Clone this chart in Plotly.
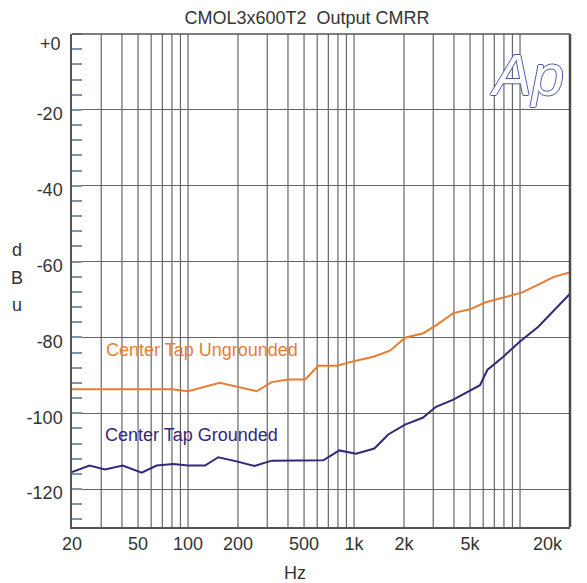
import plotly.graph_objects as go

# ---- data ----
ungrounded_hz = [20, 25, 80, 100, 155, 259, 319, 402, 507, 609, 793, 968, 1306, 1647,
                 2028, 2615, 3148, 3964, 4996, 6152, 8314, 10234, 12880, 15860, 20000]
ungrounded_db = [-93.7, -93.7, -93.7, -94.2, -92.0, -94.2, -91.8, -91.1, -91.1, -87.5, -87.5,
                 -86.4, -85.1, -83.5, -80.1, -78.9, -76.7, -73.6, -72.6, -70.8, -69.2, -68.2,
                 -66.1, -64.1, -62.8]

grounded_hz = [20, 25.5, 31.6, 40.4, 52.6, 64.7, 81.5, 100, 126.6, 152, 196, 251, 319, 653,
               816, 1028, 1325, 1608, 2028, 2592, 3119, 3964, 5740, 6352, 7926, 10000,
               12880, 15860, 20000]
grounded_db = [-115.5, -113.8, -114.8, -113.8, -115.7, -113.8, -113.4, -113.8, -113.8, -111.6,
               -112.7, -113.9, -112.5, -112.4, -109.8, -110.7, -109.3, -105.6, -103.0, -101.2,
               -98.3, -96.4, -92.6, -88.6, -85.1, -81.1, -77.2, -73.2, -68.5]

x_grid = [30, 40, 50, 60, 70, 80, 90, 100, 200, 300, 400, 500, 600, 700, 800, 900,
          1000, 2000, 3000, 4000, 5000, 6000, 7000, 8000, 9000, 10000]
x_tick_vals = [20, 50, 100, 200, 500, 1000, 2000, 5000]
x_tick_text = ["20", "50", "100", "200", "500", "1k", "2k", "5k"]
y_tick_vals = [-20, -40, -60, -80, -100, -120]
y_tick_text = ["-20", "-40", "-60", "-80", "-100", "-120"]

ORANGE = "#E87D32"
PURPLE = "#33287A"
GRID = "#666666"
TXT = "#333333"
FONT = "Liberation Sans, Arial, sans-serif"
FS = 18

fig = go.Figure()
fig.add_trace(go.Scatter(x=ungrounded_hz, y=ungrounded_db, mode="lines",
                         line=dict(color=ORANGE, width=2), name="Center Tap Ungrounded"))
fig.add_trace(go.Scatter(x=grounded_hz, y=grounded_db, mode="lines",
                         line=dict(color=PURPLE, width=2), name="Center Tap Grounded"))

# vertical grid lines
for v in x_grid:
    fig.add_shape(type="line", xref="x", yref="paper", x0=v, x1=v, y0=0, y1=1,
                  line=dict(color=GRID, width=1.2), layer="below")

fig.update_layout(
    width=587, height=583,
    margin=dict(l=72, r=17, t=34, b=56),
    paper_bgcolor="white", plot_bgcolor="white",
    showlegend=False,
    font=dict(family=FONT, size=FS, color=TXT),
    title=dict(text="CMOL3x600T2  Output CMRR", x=307 / 587, xanchor="center",
               y=1 - 18 / 583, yanchor="middle", font=dict(size=FS, color=TXT)),
)
fig.update_xaxes(type="log", range=[1.30103, 4.30103], showgrid=False,
                 tickvals=x_tick_vals, ticktext=x_tick_text, ticks="",
                 showline=True, linecolor="#555555", linewidth=1.5,
                 tickfont=dict(size=FS, color=TXT), zeroline=False)
fig.update_yaxes(range=[-130, 0], showgrid=True, gridcolor=GRID, gridwidth=1.2,
                 tickvals=y_tick_vals, ticktext=y_tick_text, ticks="",
                 showline=True, linecolor="#555555", linewidth=1.5, zeroline=False,
                 ticklabelstandoff=4, ticklabelshift=4,
                 tickfont=dict(size=FS, color=TXT),
                 minor=dict(dtick=4, tick0=0, ticks="inside", ticklen=10,
                            tickcolor="#7f96a8", tickwidth=1.5, showgrid=False))

# frame: top and right borders
fig.add_shape(type="line", xref="paper", yref="paper", x0=0, x1=1, y0=1, y1=1,
              line=dict(color="#555555", width=1.5))
fig.add_shape(type="line", xref="paper", yref="paper", x0=1, x1=1, y0=0, y1=1,
              line=dict(color="#4a4a4a", width=2.5))

# "+0" label (drawn below the top edge like the reference)
fig.add_annotation(text="+0", xref="paper", yref="paper", x=-0.018, y=1 - 10 / 493,
                   xanchor="right", yanchor="middle", showarrow=False,
                   font=dict(size=FS, color=TXT))
# "20k" label, pulled in from the right edge
fig.add_annotation(text="20k", xref="paper", yref="paper", x=(548 - 72) / 498, y=0,
                   xanchor="center", yanchor="top", yshift=-5, showarrow=False,
                   font=dict(size=FS, color=TXT))
# y axis title, stacked letters
for i, ch in enumerate(["d", "B", "u"]):
    fig.add_annotation(text=ch, xref="paper", yref="paper", x=(17 - 72) / 498,
                       y=1 - (250 + 27.5 * i - 34) / 493,
                       xanchor="center", yanchor="middle", showarrow=False,
                       font=dict(size=FS, color=TXT))
# x axis title
fig.add_annotation(text="Hz", xref="paper", yref="paper", x=(295 - 72) / 498,
                   y=-(573 - 527) / 493, xanchor="center", yanchor="middle",
                   showarrow=False, font=dict(size=FS, color=TXT))
# legend texts
fig.add_annotation(text="Center Tap Ungrounded", x=1.494, y=-83.3, xref="x", yref="y",
                   xanchor="left", yanchor="middle", showarrow=False,
                   font=dict(size=FS, color=ORANGE))
fig.add_annotation(text="Center Tap Grounded", x=1.488, y=-105.8, xref="x", yref="y",
                   xanchor="left", yanchor="middle", showarrow=False,
                   font=dict(size=FS, color=PURPLE))
# Ap logo
fig.add_annotation(text="<i>Ap</i>", xref="paper", yref="paper", x=(566 - 72) / 498,
                   y=1 - (40 - 34) / 493, xanchor="right", yanchor="top", showarrow=False,
                   font=dict(size=58, color="white", family=FONT,
                             shadow="1px 0 0 #4a5aa8, -1px 0 0 #4a5aa8, 0 1px 0 #4a5aa8, 0 -1px 0 #4a5aa8"))

fig.write_html("out.html", config={"displayModeBar": False},
               post_script="document.body.style.margin='0';")
